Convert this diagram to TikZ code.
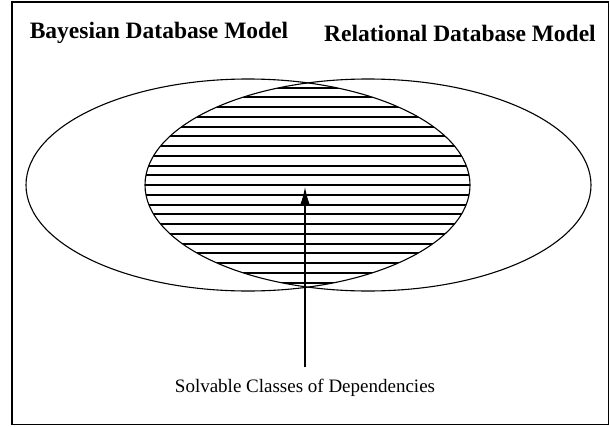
\documentclass[tikz,border=0pt]{standalone}
\usepackage{fontspec}
\setmainfont{Liberation Serif}
\usetikzlibrary{arrows.meta}

\begin{document}
\begin{tikzpicture}[x=1pt,y=-1pt,line width=1.1pt]
\useasboundingbox (0,0) rectangle (610,426);
\coordinate (BL) at (248,185);
\coordinate (RL) at (368,185);
\coordinate (tip) at (305,187);

\draw[line width=1.4pt] (12,2) rectangle (608.5,424.5);

\node (bay) at (159,33) {\fontsize{23.5}{27}\selectfont\bfseries Bayesian Database Model};
\node (rel) at (460,33) {\fontsize{23.5}{27}\selectfont\bfseries Relational Database Model};

% hatched overlap of the two models
\begin{scope}
\clip (BL) ellipse [x radius=222, y radius=106];
\clip (RL) ellipse [x radius=223, y radius=106];
\foreach \k in {0,...,20} {
  \pgfmathsetmacro{\hy}{round(87.5+9.75*\k)}
  \draw[line width=1.6pt] (140,\hy) -- (475,\hy);
}
\end{scope}

\draw (BL) ellipse [x radius=222, y radius=106];
\draw (RL) ellipse [x radius=223, y radius=106];

\node (solv) at (305,388) {\fontsize{19}{23}\selectfont Solvable Classes of Dependencies};
\draw[-{Latex[length=17pt,width=9pt]}] (solv.north) ++(0,-8) -- (tip);
\end{tikzpicture}
\end{document}
